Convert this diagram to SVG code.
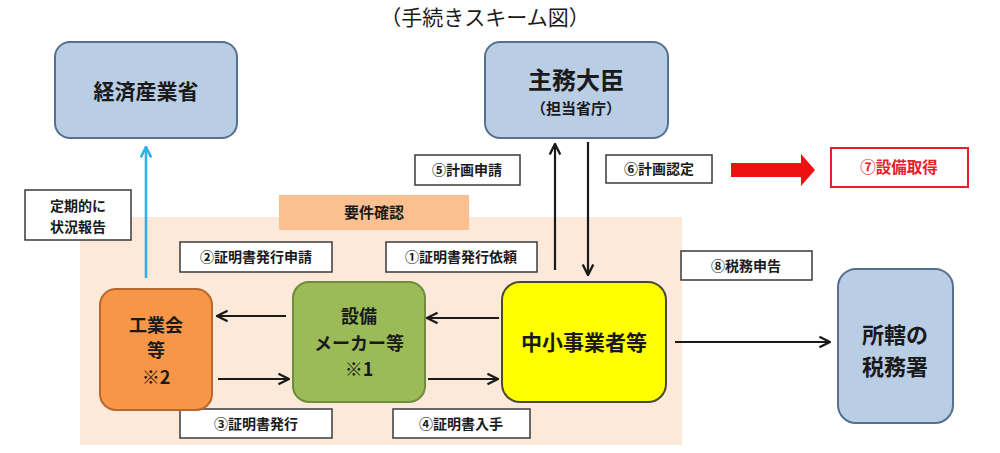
<svg xmlns="http://www.w3.org/2000/svg" width="1000" height="453" viewBox="0 0 1000 453">
<defs>
<style>
text{font-family:"Noto Sans CJK JP","Noto Sans",sans-serif;text-anchor:middle;fill:#1a1a1a}
.b{font-weight:700}
.lbl rect{fill:#fff;stroke:#3a3a3a;stroke-width:1.5}
.lbl text{font-size:14px;font-weight:700}
.blue{fill:#b9cde5;stroke:#56708f;stroke-width:2}
.conn line{stroke:#1a1a1a;stroke-width:2.2}
</style>
<marker id="ah" viewBox="0 0 10 10" refX="9" refY="5" markerWidth="6" markerHeight="6" orient="auto-start-reverse" markerUnits="strokeWidth">
<path d="M1,1 L9,5 L1,9" fill="none" stroke="#1a1a1a" stroke-width="1.8"/>
</marker>
<marker id="ahb" viewBox="0 0 10 10" refX="9" refY="5" markerWidth="5" markerHeight="5" orient="auto" markerUnits="strokeWidth">
<path d="M1,1 L9,5 L1,9" fill="none" stroke="#2fb0e8" stroke-width="2"/>
</marker>
</defs>
<rect width="1000" height="453" fill="#fff"/>
<text x="485" y="25" style="font-size:21px">（手続きスキーム図）</text>

<rect x="80" y="217" width="602" height="228" fill="#fde9d9"/>

<g id="meti"><rect class="blue" x="55" y="42" width="182" height="96" rx="15"/><text class="b" x="146" y="99" style="font-size:21px">経済産業省</text></g>
<g id="minister"><rect class="blue" x="485" y="42" width="183" height="96" rx="15"/><text class="b" x="576" y="89" style="font-size:24px">主務大臣</text><text class="b" x="576" y="114" style="font-size:15px">（担当省庁）</text></g>
<g id="youken"><rect x="279" y="195" width="190" height="35" fill="#fac090"/><text class="b" x="374" y="218" style="font-size:15px">要件確認</text></g>
<g id="teiki" class="lbl"><rect x="25" y="190" width="106" height="50"/><text x="78" y="211">定期的に</text><text x="78" y="232">状況報告</text></g>
<g id="l5" class="lbl"><rect x="415" y="155" width="105" height="30"/><text x="467" y="175">⑤計画申請</text></g>
<g id="l6" class="lbl"><rect x="606" y="155" width="106" height="28"/><text x="659" y="174">⑥計画認定</text></g>
<g id="l7"><rect x="831" y="148" width="137" height="39" fill="#fff" stroke="#e5202a" stroke-width="2"/><text class="b" x="899" y="173" style="font-size:15.5px;fill:#e5202a">⑦設備取得</text></g>
<g id="l2" class="lbl"><rect x="180" y="242" width="152" height="30"/><text x="256" y="262">②証明書発行申請</text></g>
<g id="l1" class="lbl"><rect x="386" y="242" width="151" height="30"/><text x="461" y="262">①証明書発行依頼</text></g>
<g id="l8" class="lbl"><rect x="681" y="251" width="131" height="29"/><text x="746" y="271">⑧税務申告</text></g>
<g id="l3" class="lbl"><rect x="180" y="409" width="152" height="29"/><text x="256" y="429">③証明書発行</text></g>
<g id="l4" class="lbl"><rect x="393" y="409" width="137" height="29"/><text x="461" y="429">④証明書入手</text></g>

<g id="kogyokai"><rect x="100" y="289" width="112" height="121" rx="16" fill="#f79646" stroke="#b8672d" stroke-width="2"/><text class="b" x="156" y="332" style="font-size:18px">工業会</text><text class="b" x="156" y="357" style="font-size:18px">等</text><text class="b" x="156" y="384" style="font-size:18px">※2</text></g>
<g id="maker"><rect x="293" y="282" width="132" height="120" rx="16" fill="#9bbb59" stroke="#6f8c3c" stroke-width="2"/><text class="b" x="359" y="323" style="font-size:18px">設備</text><text class="b" x="359" y="350" style="font-size:18px">メーカー等</text><text class="b" x="359" y="376" style="font-size:18px">※1</text></g>
<g id="sme"><rect x="502" y="282" width="164" height="120" rx="18" fill="#ffff00" stroke="#4a4a30" stroke-width="2"/><text class="b" x="584" y="350" style="font-size:21px">中小事業者等</text></g>
<g id="zeimusho"><rect class="blue" x="838" y="269" width="115" height="154" rx="18"/><text class="b" x="895" y="343" style="font-size:22px">所轄の</text><text class="b" x="895" y="375" style="font-size:22px">税務署</text></g>

<g id="connectors" class="conn">
<line x1="146" y1="278" x2="146" y2="147" style="stroke:#2fb0e8;stroke-width:2.6" marker-end="url(#ahb)"/>
<line x1="555" y1="270" x2="555" y2="144" marker-end="url(#ah)"/>
<line x1="588" y1="142" x2="588" y2="275" marker-end="url(#ah)"/>
<line x1="286" y1="316" x2="217" y2="316" marker-end="url(#ah)"/>
<line x1="218" y1="379" x2="289" y2="379" marker-end="url(#ah)"/>
<line x1="499" y1="318" x2="427" y2="318" marker-end="url(#ah)"/>
<line x1="428" y1="379" x2="498" y2="379" marker-end="url(#ah)"/>
<line x1="675" y1="342" x2="830" y2="342" marker-end="url(#ah)"/>
<path d="M731,163 H801 V154 L815,170 L801,186 V177 H731 Z" fill="#ee1111"/>
</g>
</svg>
